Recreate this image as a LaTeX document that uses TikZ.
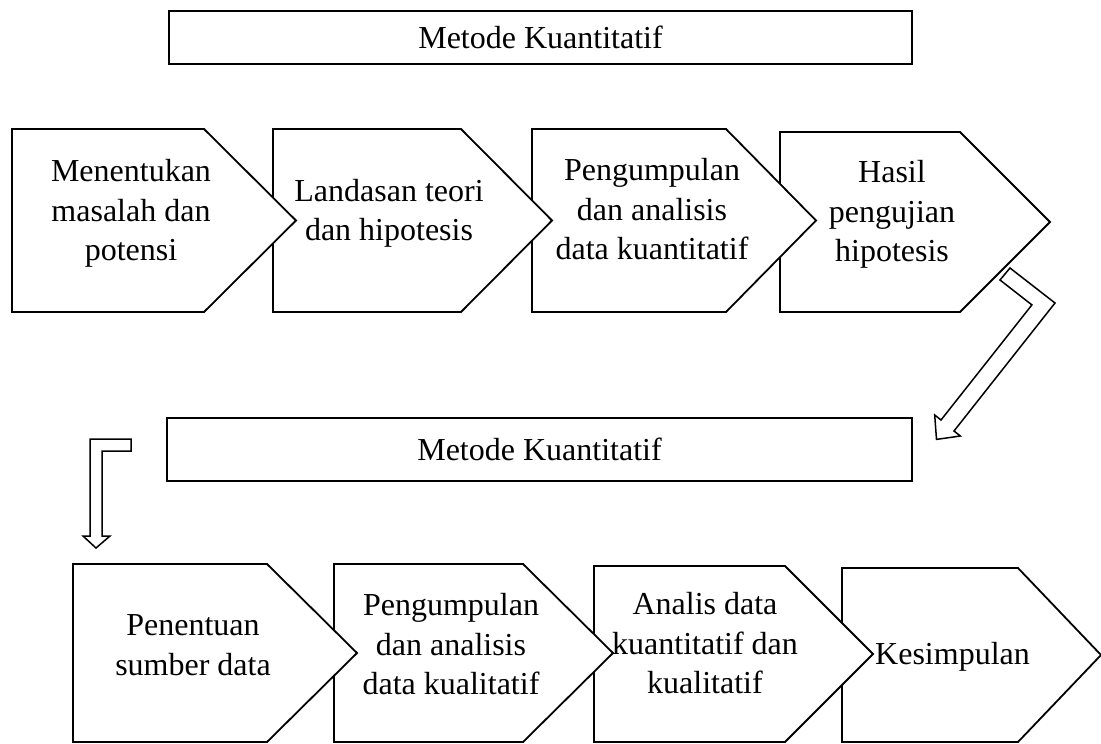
\documentclass[tikz,border=0pt]{standalone}
\usepackage{fontspec}
\setmainfont{Liberation Serif}
\tikzset{
  chev/.style={draw=black, fill=white, line width=1.8pt, line join=miter},
  blockarrow/.style={draw=black, fill=white, line width=1.5pt, line join=miter},
  titlebox/.style={draw=black, fill=white, inner sep=0pt, font=\fontsize{32}{38}\selectfont},
  lbl/.style={font=\fontsize{32}{39.5}\selectfont, align=center, inner sep=0pt,
    execute at begin node=\strut, execute at end node=\strut},
}
% left, top, corner, tip, bottom
\newcommand\chevpath[5]{%
  \filldraw[chev] (#1,#2) -- (#3,#2) -- (#4,{(#2+#5)/2}) -- (#3,#5) -- (#1,#5) -- cycle;}
\begin{document}
\begin{tikzpicture}[x=1pt,y=-1pt]
\useasboundingbox (0,0) rectangle (1101,744);
% titles
\node[titlebox, line width=2.5pt, minimum width=743pt, minimum height=53pt] (m1) at (540.5,37.5) {Metode Kuantitatif};
\node[titlebox, line width=2pt, minimum width=745pt, minimum height=63pt] (m2) at (539.5,449.5) {Metode Kuantitatif};
% top row (right to left so that each tip lies over the next box)
\chevpath{780}{132}{960}{1050}{312}
\chevpath{532}{129}{726}{816}{312}
\chevpath{273}{129}{461}{552}{312}
\chevpath{12}{129}{204}{296}{312}
% bottom row
\chevpath{842}{568}{1018}{1101}{742}
\chevpath{594}{566}{785}{873}{742}
\chevpath{334}{564}{523}{613}{742}
\chevpath{73}{564}{267}{357}{742}
% texts
\node[lbl] (t1) at (131,216) {Menentukan\\masalah dan\\potensi};
\node[lbl] (t2) at (389,216) {Landasan teori\\dan hipotesis};
\node[lbl] (t3) at (652,215) {Pengumpulan\\dan analisis\\data kuantitatif};
\node[lbl] (t4) at (892,217) {Hasil\\pengujian\\hipotesis};
\node[lbl] (b1) at (193,651) {Penentuan\\sumber data};
\node[lbl] (b2) at (451,650) {Pengumpulan\\dan analisis\\data kualitatif};
\node[lbl] (b3) at (705,649) {Analis data\\kuantitatif dan\\kualitatif};
\node[lbl, anchor=west] (b4) at (875,657) {Kesimpulan};
% bent block arrow from the top row down to the second title
\filldraw[blockarrow] (1010,268) -- (1055,303) -- (954,431) -- (960.3,436) -- (936.5,439.4)
  -- (934.7,415) -- (941,420) -- (1031.9,304.9) -- (1000,280) -- cycle;
% L-shaped block arrow down to the bottom row
\filldraw[blockarrow] (131,439) -- (90,439) -- (90,536) -- (83,536) -- (96,548)
  -- (110,536) -- (102,536) -- (102,451) -- (131,451) -- cycle;
\end{tikzpicture}
\end{document}
